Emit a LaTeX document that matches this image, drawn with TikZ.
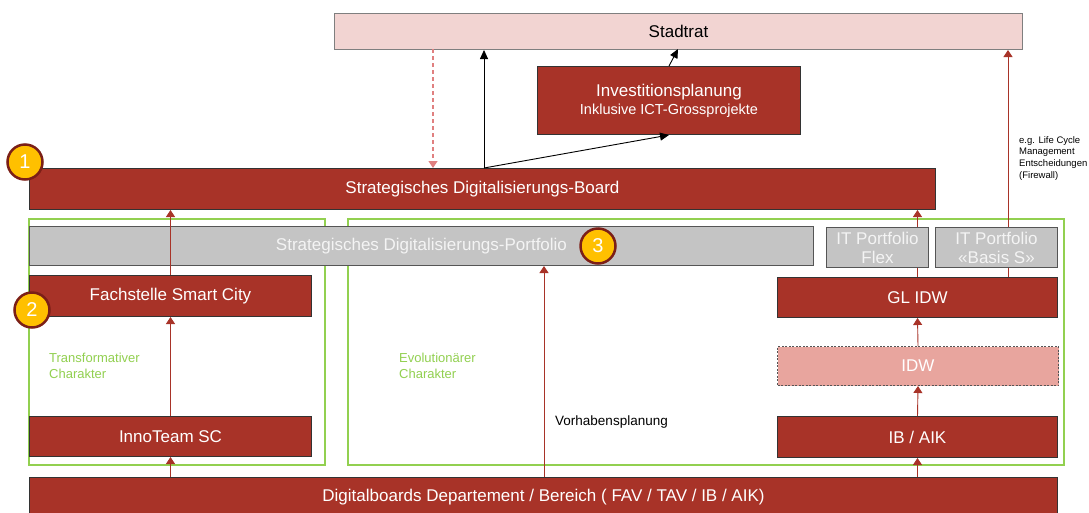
\documentclass[tikz,border=0pt]{standalone}
\usepackage{fontspec}
\setmainfont{Liberation Sans}
\usetikzlibrary{arrows.meta}
\definecolor{boxred}{HTML}{A83328}
\definecolor{boxedge}{HTML}{333333}
\definecolor{stadtpink}{HTML}{F2D4D2}
\definecolor{stadtedge}{HTML}{7F7F7F}
\definecolor{portgray}{HTML}{C4C4C4}
\definecolor{grayedge}{HTML}{555555}
\definecolor{graytext}{HTML}{F4F4F4}
\definecolor{idwpink}{HTML}{E8A59E}
\definecolor{gold}{HTML}{FFC000}
\definecolor{badgeedge}{HTML}{7B1F17}
\definecolor{frame}{HTML}{92D050}
\definecolor{arrowred}{HTML}{A83328}
\definecolor{dashred}{HTML}{E08080}
\begin{document}
\begin{tikzpicture}[x=1pt,y=-1pt,
  box/.style={anchor=north west, inner sep=0pt, align=center, line width=1pt},
  redbox/.style={box, draw=boxedge, fill=boxred, text=white, font=\fontsize{17}{20}\selectfont},
  graybox/.style={box, draw=grayedge, fill=portgray, text=graytext, font=\fontsize{17}{19}\selectfont},
  badge/.style={circle, fill=gold, draw=badgeedge, line width=2.5pt, text=white, minimum size=35pt, inner sep=0pt, font=\fontsize{20}{20}\selectfont},
  uparrow/.style={draw=arrowred, line width=0.9pt, -{Triangle[length=7pt,width=9pt]}},
  blackarrow/.style={draw=black, line width=0.9pt, -{Triangle[length=9pt,width=8pt]}},
  dasharrow/.style={draw=dashred, line width=1.2pt, dashed, dash pattern=on 4pt off 3pt, -{Triangle[length=7pt,width=9pt]}},
  greenframe/.style={draw=frame, line width=2.2pt},
  greentext/.style={text=frame, font=\fontsize{13}{16}\selectfont, align=left, anchor=north west, inner sep=0pt},
  smalltext/.style={text=black, font=\fontsize{9.5}{11.7}\selectfont, align=left, anchor=north west, inner sep=0pt},
]
\useasboundingbox (0,0) rectangle (1089,512);
\fill[white] (0,0) rectangle (1089,512);

% top boxes
\node[box, draw=stadtedge, fill=stadtpink, minimum width=688pt, minimum height=36pt, font=\fontsize{17}{20}\selectfont] (stadt) at (334,13) {Stadtrat};
\node[redbox, minimum width=263pt, minimum height=68pt] (invest) at (537,66) {Investitionsplanung\\[-2pt]{\fontsize{14.5}{17}\selectfont Inklusive ICT-Grossprojekte}};
\node[redbox, minimum width=906pt, minimum height=41pt] (board) at (29,168) {Strategisches Digitalisierungs-Board};

% green frames
\draw[greenframe] (29,219) rectangle (325,465);
\draw[greenframe] (348,219) rectangle (1064,465);

% GL IDW boxes first, so the arrows from it run behind the IT portfolio boxes
\node[redbox, minimum width=280pt, minimum height=40pt] (glidw) at (777,277) {GL IDW};
\coordinate (rfw) at (1008,277);
\draw[uparrow] (rfw) -- (rfw |- stadt.south);
\draw[uparrow] (glidw.north) -- (glidw.north |- board.south);

% boxes
\node[graybox, minimum width=784pt, minimum height=39pt] (port) at (29,226) {Strategisches Digitalisierungs-Portfolio};
\node[graybox, minimum width=102pt, minimum height=40pt] (flex) at (826,227) {IT Portfolio\\Flex};
\node[graybox, minimum width=122pt, minimum height=40pt] (basis) at (935,227) {IT Portfolio\\«Basis S»};
\node[redbox, minimum width=282pt, minimum height=41pt] (fach) at (29,275) {Fachstelle Smart City};
\node[box, draw=grayedge, dashed, dash pattern=on 2pt off 1.5pt, fill=idwpink, text=white, font=\fontsize{17}{20}\selectfont, minimum width=281pt, minimum height=39pt] (idw) at (777,346) {IDW};
\node[redbox, minimum width=282pt, minimum height=40pt] (inno) at (29,416) {InnoTeam SC};
\node[redbox, minimum width=280pt, minimum height=41pt] (ibaik) at (777,416) {IB / AIK};
\node[redbox, minimum width=1028pt, minimum height=40pt] (digi) at (29,477) {\raisebox{3pt}{Digitalboards Departement / Bereich ( FAV / TAV / IB / AIK)}};

% texts
\node[greentext] (trans) at (49,353) {Transformativer\\Charakter};
\node[greentext] (evol) at (399,353) {Evolutionärer\\Charakter};
\node[text=black, font=\fontsize{13.5}{16}\selectfont, anchor=west, inner sep=0pt] (vorh) at (555,422) {Vorhabensplanung};
\node[smalltext] (lcm) at (1019,136) {e.g. Life Cycle\\Management\\Entscheidungen\\(Firewall)};

% red arrows
\draw[uparrow] (fach.north) -- (fach.north |- board.south);
\draw[uparrow] (inno.north) -- (fach.south);
\draw[uparrow] (digi.north -| inno.north) -- (inno.south);
\coordinate (vp) at (544,477);
\draw[uparrow] (vp) -- (vp |- port.south);
\draw[uparrow] (idw.north) -- (glidw.south);
\draw[uparrow] (ibaik.north) -- (idw.south);
\draw[uparrow] (digi.north -| ibaik.north) -- (ibaik.south);

% dashed and black arrows
\coordinate (dtop) at (433,49);
\draw[dasharrow] (dtop) -- (dtop |- board.north);
\coordinate (bstart) at (484,168);
\draw[blackarrow] (bstart) -- (bstart |- stadt.south);
\draw[blackarrow] (bstart) -- (invest.south);
\draw[blackarrow] (invest.north) -- (678,49);

% badges
\node[badge] (b1) at (25,162) {1};
\node[badge] (b2) at (32,310) {2};
\node[badge] (b3) at (598,246) {3};
\end{tikzpicture}
\end{document}
